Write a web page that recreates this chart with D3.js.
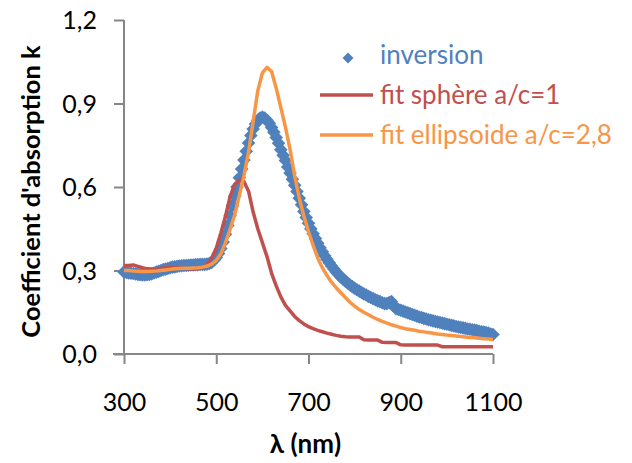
<!DOCTYPE html>
<html><head><meta charset="utf-8">
<script src="https://cdn.jsdelivr.net/npm/d3@7"></script>
<style>html,body{margin:0;padding:0;background:#fff}svg{display:block}</style>
</head><body>
<script>
// wavelength grids (nm)
const inversionLambda = d3.range(300, 1101, 5);
const fitLambda = d3.range(300, 1101, 10);

// "inversion" k values, 300..1100 nm every 5 nm
const inversionK = [
0.295,0.293,0.291,0.290,0.289,0.288,0.286,0.285,0.284,0.284,
0.285,0.286,0.288,0.291,0.294,0.297,0.300,0.303,0.305,0.307,
0.310,0.312,0.313,0.315,0.316,0.317,0.318,0.318,0.319,0.320,
0.320,0.321,0.321,0.322,0.322,0.322,0.323,0.325,0.329,0.337,
0.347,0.361,0.379,0.402,0.430,0.462,0.497,0.533,0.568,0.600,
0.633,0.665,0.697,0.728,0.758,0.785,0.808,0.826,0.840,0.848,
0.851,0.848,0.840,0.829,0.814,0.797,0.778,0.757,0.734,0.714,
0.695,0.672,0.650,0.628,0.606,0.584,0.560,0.536,0.512,0.490,
0.470,0.450,0.432,0.415,0.398,0.382,0.367,0.353,0.340,0.328,
0.316,0.305,0.295,0.286,0.277,0.269,0.262,0.255,0.248,0.242,
0.236,0.231,0.226,0.221,0.216,0.212,0.207,0.203,0.199,0.195,
0.191,0.188,0.184,0.181,0.181,0.185,0.188,0.172,0.163,0.160,
0.157,0.154,0.151,0.148,0.145,0.142,0.139,0.136,0.133,0.131,
0.128,0.126,0.123,0.121,0.119,0.117,0.115,0.113,0.111,0.109,
0.107,0.105,0.103,0.101,0.099,0.097,0.095,0.094,0.092,0.090,
0.089,0.087,0.086,0.084,0.082,0.080,0.079,0.077,0.075,0.072,
0.070];

// "fit sphère a/c=1" k values, 300..1100 nm every 10 nm
const sphereK = [
0.318,0.318,0.320,0.315,0.310,0.306,0.305,0.305,0.307,0.310,
0.312,0.312,0.310,0.308,0.306,0.305,0.306,0.310,0.322,0.345,
0.380,0.435,0.495,0.565,0.610,0.625,0.620,0.585,0.510,0.450,
0.400,0.350,0.290,0.245,0.205,0.175,0.155,0.135,0.120,0.108,
0.098,0.091,0.085,0.080,0.075,0.071,0.067,0.064,0.062,0.061,
0.061,0.061,0.051,0.050,0.050,0.050,0.042,0.041,0.041,0.041,
0.033,0.032,0.032,0.032,0.032,0.032,0.032,0.032,0.032,0.026,
0.026,0.026,0.026,0.026,0.026,0.026,0.026,0.026,0.026,0.026,
0.026];

// "fit ellipsoide a/c=2,8" k values, 300..1100 nm every 10 nm
const ellipsoidK = [
0.300,0.300,0.298,0.297,0.296,0.296,0.297,0.298,0.300,0.302,
0.304,0.306,0.307,0.308,0.308,0.309,0.310,0.312,0.316,0.323,
0.336,0.360,0.400,0.448,0.500,0.570,0.640,0.725,0.835,0.945,
1.010,1.030,1.015,0.955,0.885,0.815,0.735,0.640,0.560,0.495,
0.440,0.390,0.345,0.310,0.282,0.258,0.238,0.220,0.203,0.186,
0.172,0.160,0.150,0.141,0.132,0.124,0.117,0.111,0.105,0.100,
0.095,0.091,0.088,0.085,0.082,0.0795,0.077,0.0745,0.072,0.070,
0.068,0.0665,0.065,0.063,0.061,0.0595,0.058,0.0565,0.055,0.0535,
0.052];

const xTickValues = [300, 500, 700, 900, 1100];
const yTickValues = [0, 0.3, 0.6, 0.9, 1.2];
const seriesNames = ["inversion", "fit sphère a/c=1", "fit ellipsoide a/c=2,8"];
const seriesColors = ["#4F81BD", "#C0504D", "#F79646"];
const xTitle = "λ (nm)";
const yTitle = "Coefficient d'absorption k";

const W = 632, H = 463;
const svg = d3.select("body").append("svg").attr("width", W).attr("height", H);

const x = d3.scaleLinear().domain([300, 1100]).range([124, 493]);
const y = d3.scaleLinear().domain([0, 1.2]).range([354, 20]);

const fmt = d => d3.format(".1f")(d).replace(".", ",");
const axisColor = "#868686";
const font = "Lato, 'Open Sans', sans-serif";

// X axis
const gx = svg.append("g").attr("transform", `translate(0,${y(0)})`)
  .call(d3.axisBottom(x).tickValues(xTickValues).tickSize(10).tickPadding(29).tickFormat(d3.format("d")));
// Y axis
const gy = svg.append("g").attr("transform", `translate(${x(300)},0)`)
  .call(d3.axisLeft(y).tickValues(yTickValues).tickSize(10).tickPadding(17).tickFormat(fmt));
[gx, gy].forEach(g => {
  g.select(".domain").attr("stroke", axisColor).attr("stroke-width", 2).attr("d", null);
  g.selectAll(".tick line").attr("stroke", axisColor).attr("stroke-width", 2);
  g.selectAll("text").attr("fill", "#000").style("font-family", font).style("font-size", "25px");
});
gx.select(".domain").attr("d", `M${x(300)-11},0H${x(1100)}`);
gy.select(".domain").attr("d", `M0,${y(1.2)}V${y(0)}`);
gy.selectAll(".tick line").attr("x2", -10);
gy.selectAll("text").attr("dy", "0.35em");

// Inversion markers
const diamond = r => `M0,${-r}L${r},0L0,${r}L${-r},0Z`;
const inv = inversionLambda.map((l, i) => [l, inversionK[i]]);
svg.append("g").selectAll("path").data(inv).join("path")
  .attr("d", diamond(6.8))
  .attr("transform", d => `translate(${x(d[0])},${y(d[1])})`)
  .attr("fill", seriesColors[0]);

const line = d3.line().x(d => x(d[0])).y(d => y(d[1]));
const sph = fitLambda.map((l, i) => [l, sphereK[i]]);
const ell = fitLambda.map((l, i) => [l, ellipsoidK[i]]);
svg.append("path").datum(sph).attr("d", line).attr("fill", "none")
  .attr("stroke", seriesColors[1]).attr("stroke-width", 3.5).attr("stroke-linejoin", "round");
svg.append("path").datum(ell).attr("d", line).attr("fill", "none")
  .attr("stroke", seriesColors[2]).attr("stroke-width", 3.5).attr("stroke-linejoin", "round");

// Legend
const lg = svg.append("g");
const legendY = [58, 95, 135];
lg.append("path").attr("d", diamond(5.5)).attr("transform", `translate(348,${legendY[0]})`).attr("fill", seriesColors[0]);
[1, 2].forEach(i => {
  lg.append("line").attr("x1", 320).attr("x2", 373).attr("y1", legendY[i]).attr("y2", legendY[i])
    .attr("stroke", seriesColors[i]).attr("stroke-width", 3.5);
});
const legendBase = [64, 104, 143.5];
seriesNames.forEach((n, i) => {
  lg.append("text").attr("x", 380).attr("y", legendBase[i]).text(n)
    .attr("fill", seriesColors[i]).style("font-family", font).style("font-size", "26px");
});

// Titles
svg.append("text").attr("x", 305.5).attr("y", 453).attr("text-anchor", "middle")
  .style("font-family", font).style("font-size", "26px").style("font-weight", "bold").text(xTitle);
svg.append("text").attr("transform", "translate(40,191.5) rotate(-90)").attr("text-anchor", "middle")
  .style("font-family", font).style("font-size", "25.5px").style("font-weight", "bold").text(yTitle);
</script>
</body></html>
